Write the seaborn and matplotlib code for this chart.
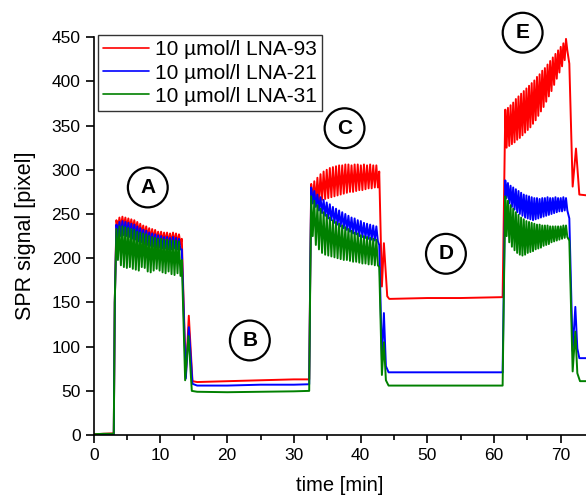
import numpy as np
import pandas as pd
import matplotlib
matplotlib.use("Agg")
import matplotlib.pyplot as plt
import seaborn as sns
from matplotlib.ticker import MultipleLocator

# ---------------- data ----------------
series_names = ["10 µmol/l LNA-93", "10 µmol/l LNA-21", "10 µmol/l LNA-31"]
series_colors = ["#ff0000", "#0000ff", "#008000"]

# oscillating injection phases (start, end) in min
phase_A = (3.4, 13.0)
phase_C = (32.6, 42.6)
phase_E = (61.7, 71.0)

# --- LNA-93 (red)
red_pre_t = [0.0, 1.5, 3.0, 3.15]
red_pre_v = [1.0, 1.5, 2.0, 150.0]
red_A_peaks = [243, 246, 247, 246, 245, 244, 243, 241, 239, 237, 236, 234, 233, 232, 230, 230, 229, 229, 228, 229, 228, 227]
red_A_troughs = [232, 235, 236, 235, 234, 232, 231, 229, 227, 225, 224, 222, 221, 220, 219, 218, 218, 217, 217, 217, 216, 216]
red_B_t = [13.2, 13.8, 14.25, 14.8, 15.5, 20.0, 25.0, 30.0, 32.3, 32.45]
red_B_v = [222, 66, 135, 61, 60, 61, 62, 63, 63, 180]
red_C_peaks = [284, 287, 291, 295, 298, 300, 302, 303, 304, 305, 305, 306, 306, 305, 306, 306, 305, 306, 305, 306, 305, 305]
red_C_troughs = [262, 263, 264, 266, 267, 268, 269, 270, 271, 272, 273, 274, 275, 275, 276, 277, 277, 278, 279, 279, 280, 280]
red_D_t = [42.8, 43.2, 43.5, 44.0, 44.3, 50.0, 55.0, 61.3, 61.5]
red_D_v = [298, 168, 217, 157, 154, 155, 155, 156, 260]
red_E_peaks = [368, 370, 373, 376, 380, 383, 386, 389, 392, 395, 398, 401, 405, 408, 412, 415, 419, 423, 427, 431, 435, 439, 443, 448]
red_E_troughs = [325, 327, 329, 331, 334, 336, 339, 342, 345, 348, 352, 356, 361, 366, 371, 377, 383, 389, 396, 403, 410, 417, 424, 435]
red_post_t = [71.3, 71.8, 72.3, 72.8, 74.0]
red_post_v = [420, 281, 324, 272, 271]

# --- LNA-21 (blue)
blue_pre_t = [0.0, 1.5, 3.0, 3.15]
blue_pre_v = [0.0, 0.5, 0.5, 150.0]
blue_A_peaks = [238, 241, 242, 241, 240, 239, 238, 236, 234, 232, 231, 229, 228, 227, 226, 225, 224, 224, 223, 224, 223, 222]
blue_A_troughs = [222, 225, 226, 225, 224, 222, 221, 219, 218, 216, 215, 214, 213, 212, 212, 211, 211, 210, 210, 211, 210, 210]
blue_B_t = [13.2, 13.8, 14.25, 14.8, 15.5, 20.0, 25.0, 30.0, 32.3, 32.45]
blue_B_v = [210, 64, 122, 58, 56, 56, 57, 57, 57.5, 180]
blue_C_peaks = [280, 276, 272, 269, 266, 263, 261, 258, 256, 254, 252, 250, 248, 246, 245, 243, 242, 240, 239, 238, 237, 236]
blue_C_troughs = [262, 258, 254, 251, 248, 245, 243, 240, 238, 236, 234, 232, 230, 228, 227, 225, 224, 223, 222, 221, 220, 219]
blue_D_t = [42.8, 43.2, 43.5, 43.8, 44.2, 50.0, 55.0, 61.3, 61.5]
blue_D_v = [215, 85, 138, 78, 71, 71, 71, 71, 180]
blue_E_peaks = [288, 285, 282, 280, 278, 276, 274, 272, 271, 270, 269, 268, 268, 267, 268, 268, 269, 268, 268, 269, 268, 268, 269, 268]
blue_E_troughs = [268, 262, 258, 255, 252, 250, 248, 246, 245, 244, 243, 244, 245, 246, 247, 248, 249, 250, 251, 252, 253, 253, 254, 254]
blue_post_t = [71.3, 71.8, 72.2, 72.5, 72.8, 74.0]
blue_post_v = [245, 95, 145, 98, 87, 87]

# --- LNA-31 (green)
green_pre_t = [0.0, 1.5, 3.0, 3.15]
green_pre_v = [1.0, 1.5, 1.5, 150.0]
green_A_peaks = [233, 236, 236, 235, 234, 233, 232, 230, 229, 228, 227, 225, 224, 223, 222, 222, 221, 221, 220, 220, 220, 219]
green_A_troughs = [198, 192, 190, 189, 190, 188, 187, 186, 190, 189, 185, 184, 186, 188, 186, 184, 183, 185, 182, 181, 183, 180]
green_B_t = [13.2, 13.7, 14.2, 14.7, 15.5, 20.0, 25.0, 30.0, 32.3, 32.45]
green_B_v = [198, 62, 112, 50, 49, 48.5, 49, 49.5, 50, 170]
green_C_peaks = [270, 265, 260, 256, 252, 249, 246, 243, 241, 239, 237, 235, 233, 231, 229, 228, 226, 225, 224, 223, 222, 221]
green_C_troughs = [225, 215, 210, 206, 204, 203, 202, 201, 200, 199, 198, 198, 197, 196, 196, 195, 194, 194, 193, 193, 192, 192]
green_D_t = [42.8, 43.2, 43.5, 43.8, 44.2, 50.0, 55.0, 61.3, 61.5]
green_D_v = [190, 68, 105, 62, 56, 56, 56, 56, 170]
green_E_peaks = [270, 265, 260, 256, 252, 249, 246, 244, 242, 241, 240, 239, 238, 238, 237, 237, 237, 236, 236, 236, 236, 236, 237, 237]
green_E_troughs = [225, 218, 213, 209, 206, 204, 203, 204, 206, 207, 208, 210, 211, 212, 214, 215, 216, 218, 219, 220, 221, 222, 223, 224]
green_post_t = [71.3, 71.8, 72.2, 72.5, 72.9, 74.0]
green_post_v = [220, 72, 117, 70, 61, 61]

# circled phase labels
phase_labels = ["A", "B", "C", "D", "E"]
phase_label_x = [8.1, 23.4, 37.6, 52.8, 64.3]
phase_label_y = [280, 107, 347, 205, 455]


# ---------------- assemble ----------------
def zigzag(phase, peaks, troughs):
    n = len(peaks)
    t = np.linspace(phase[0], phase[1], 2 * n)
    v = np.empty(2 * n)
    v[0::2] = peaks
    v[1::2] = troughs
    return list(t), list(v)


def build(pre_t, pre_v, Ap, At, B_t, B_v, Cp, Ct, D_t, D_v, Ep, Et, post_t, post_v):
    tA, vA = zigzag(phase_A, Ap, At)
    tC, vC = zigzag(phase_C, Cp, Ct)
    tE, vE = zigzag(phase_E, Ep, Et)
    t = pre_t + tA + B_t + tC + D_t + tE + post_t
    v = pre_v + vA + B_v + vC + D_v + vE + post_v
    return t, v


traces = [
    build(red_pre_t, red_pre_v, red_A_peaks, red_A_troughs, red_B_t, red_B_v,
          red_C_peaks, red_C_troughs, red_D_t, red_D_v, red_E_peaks, red_E_troughs,
          red_post_t, red_post_v),
    build(blue_pre_t, blue_pre_v, blue_A_peaks, blue_A_troughs, blue_B_t, blue_B_v,
          blue_C_peaks, blue_C_troughs, blue_D_t, blue_D_v, blue_E_peaks, blue_E_troughs,
          blue_post_t, blue_post_v),
    build(green_pre_t, green_pre_v, green_A_peaks, green_A_troughs, green_B_t, green_B_v,
          green_C_peaks, green_C_troughs, green_D_t, green_D_v, green_E_peaks, green_E_troughs,
          green_post_t, green_post_v),
]

frames = []
for name, (t, v) in zip(series_names, traces):
    frames.append(pd.DataFrame({"time": t, "signal": v, "series": name}))
df = pd.concat(frames, ignore_index=True)

# ---------------- plot ----------------
sns.set_theme(style="ticks")
plt.rcParams["font.family"] = ["Liberation Sans", "DejaVu Sans"]
plt.rcParams["text.color"] = "black"
plt.rcParams["axes.labelcolor"] = "black"
plt.rcParams["xtick.color"] = "black"
plt.rcParams["ytick.color"] = "black"

fig = plt.figure(figsize=(5.86, 4.95), dpi=100)
ax = fig.add_axes([0.160, 0.121, 0.840, 0.804])

sns.lineplot(data=df, x="time", y="signal", hue="series", hue_order=series_names,
             palette=series_colors, estimator=None, sort=False, linewidth=1.4, ax=ax)

ax.set_xlim(0, 73.8)
ax.set_ylim(0, 450)
ax.xaxis.set_major_locator(MultipleLocator(10))
ax.xaxis.set_minor_locator(MultipleLocator(5))
ax.yaxis.set_major_locator(MultipleLocator(50))
ax.tick_params(axis="both", which="major", direction="out", length=6, width=1.2,
               labelsize=12.5, colors="black")
ax.tick_params(axis="x", which="minor", direction="out", length=3.5, width=1.2,
               colors="black")
for side in ["top", "right"]:
    ax.spines[side].set_visible(False)
for side in ["left", "bottom"]:
    ax.spines[side].set_linewidth(1.2)
    ax.spines[side].set_color("black")

ax.set_xlabel("time [min]", fontsize=14.5, labelpad=9, color="black")
ax.set_ylabel("SPR signal [pixel]", fontsize=15.5, labelpad=11, color="black")

leg = ax.legend(loc="upper left", bbox_to_anchor=(0.008, 1.005), borderaxespad=0,
                fontsize=15, handlelength=2.2, labelspacing=0.2, handletextpad=0.3,
                borderpad=0.25, frameon=True, fancybox=False)
leg.get_frame().set_edgecolor("black")
leg.get_frame().set_linewidth(1.0)
for txt in leg.get_texts():
    txt.set_color("black")
for line in leg.get_lines():
    line.set_linewidth(1.2)

for lab, x, y in zip(phase_labels, phase_label_x, phase_label_y):
    ax.text(x, y, lab, ha="center", va="center", fontsize=15, fontweight="bold",
            color="black", clip_on=False, zorder=5,
            bbox=dict(boxstyle="circle,pad=0.5", fc="white", ec="black", lw=1.6))

fig.savefig("out.png", dpi=100)
